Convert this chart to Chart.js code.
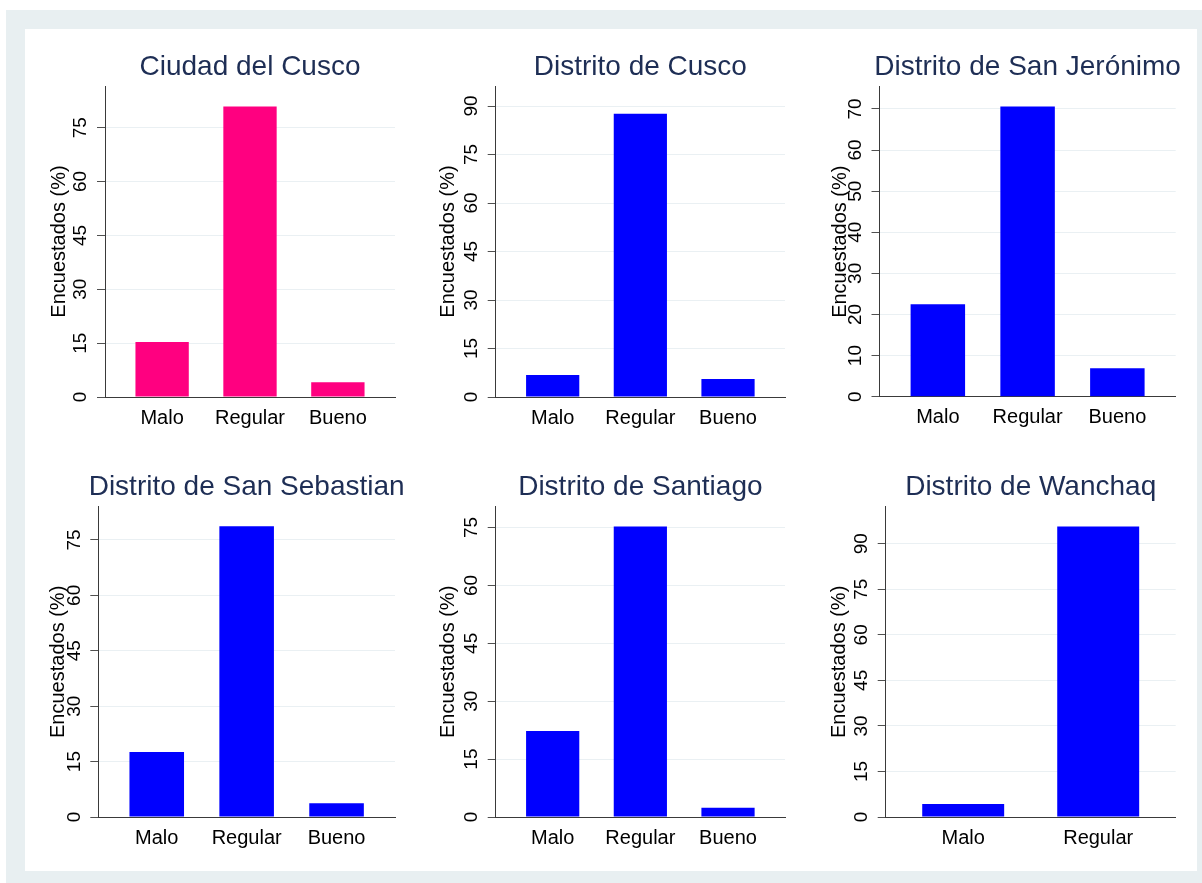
<!DOCTYPE html>
<html lang="es">
<head>
<meta charset="utf-8">
<title>Encuestados por distrito</title>
<script src="https://cdn.jsdelivr.net/npm/chart.js@4.4.1/dist/chart.umd.min.js"></script>
<style>
  html, body { margin: 0; padding: 0; background: #fff; }
  #frame { position: absolute; left: 6px; top: 10px; width: 1196px; height: 873px; background: #e8eff1; }
  #sheet { position: absolute; left: 25px; top: 29px; width: 1172px; height: 842px; background: #fff; }
  canvas { position: absolute; }
</style>
</head>
<body>
<div id="frame"></div>
<div id="sheet"></div>
<script>
// survey answers, percent of respondents
const categories = ['Malo', 'Regular', 'Bueno'];
const ciudadCusco = [15.3, 80.9, 4.1];
const distritoCusco = [6.8, 87.6, 5.6];
const sanJeronimo = [22.5, 70.6, 6.9];
const sanSebastian = [17.6, 78.7, 3.7];
const santiago = [22.3, 75.3, 2.4];
const wanchaq = [4.3, 95.7];

const titles = ['Ciudad del Cusco', 'Distrito de Cusco', 'Distrito de San Jerónimo',
                'Distrito de San Sebastian', 'Distrito de Santiago', 'Distrito de Wanchaq'];
const series = [ciudadCusco, distritoCusco, sanJeronimo, sanSebastian, santiago, wanchaq];

// y axis: upper end and tick step for each panel
const yMax = [86.6, 96.2, 75.4, 84.0, 80.4, 102.2];
const yStep = [15, 15, 10, 15, 15, 15];

const PINK = '#ff0080';
const BLUE = '#0000ff';
const AXIS = '#3a3a3a';
const GRID = '#eaf0f3';
const NAVY = '#1e2e55';
const FONT = '"Liberation Sans", Arial, Helvetica, sans-serif';

Chart.defaults.font.family = FONT;

// panel title centred over the plot area (the built-in title squeezes long text to the plot width)
const panelTitle = {
    id: 'panelTitle',
    afterDraw: function(chart, args, opts) {
        const ctx = chart.ctx;
        const area = chart.chartArea;
        ctx.save();
        ctx.font = '28px ' + FONT;
        ctx.fillStyle = NAVY;
        ctx.textAlign = 'center';
        ctx.textBaseline = 'middle';
        ctx.fillText(opts.text, (area.left + area.right) / 2, opts.y);
        ctx.restore();
    }
};

// canvas box [left, top, width, height], inner padding, y-axis width, title middle line
const layout = [
  { box: [25, 29, 375, 411],  pad: { left: 22,   right: 5,    top: 57,   bottom: 3 },   yWidth: 58,   titleY: 38 },
  { box: [400, 29, 400, 411], pad: { left: 36.3, right: 15,   top: 57,   bottom: 3 },   yWidth: 59.4, titleY: 38 },
  { box: [800, 29, 397, 411], pad: { left: 28,   right: 21.3, top: 57.7, bottom: 3.3 }, yWidth: 51.5, titleY: 38 },
  { box: [25, 440, 395, 431], pad: { left: 21.7, right: 25,   top: 66.7, bottom: 14 },  yWidth: 51.6, titleY: 47 },
  { box: [400, 440, 400, 431],pad: { left: 36.7, right: 15,   top: 66.7, bottom: 14 },  yWidth: 59,   titleY: 47 },
  { box: [800, 440, 397, 431],pad: { left: 27.5, right: 21.3, top: 66.7, bottom: 14 },  yWidth: 58.2, titleY: 47 }
];

series.forEach(function(values, k) {
    const L = layout[k];
    const canvas = document.createElement('canvas');
    canvas.width = L.box[2];
    canvas.height = L.box[3];
    canvas.style.left = L.box[0] + 'px';
    canvas.style.top = L.box[1] + 'px';
    document.body.appendChild(canvas);

    // outer gap around the bars, in category units
    const gap = values.length === 3 ? 0.65 : 0.574;

    new Chart(canvas, {
        type: 'bar',
        data: {
            datasets: [{
                data: values.map(function(v, i) { return { x: i, y: v }; }),
                backgroundColor: k === 0 ? PINK : BLUE,
                borderWidth: 0,
                categoryPercentage: 1,
                barPercentage: 0.607
            }]
        },
        plugins: [panelTitle],
        options: {
            responsive: false,
            animation: false,
            events: [],
            layout: { padding: L.pad },
            plugins: {
                legend: { display: false },
                tooltip: { enabled: false },
                title: { display: false },
                panelTitle: { text: titles[k], y: L.titleY }
            },
            scales: {
                x: {
                    type: 'linear',
                    offset: false,
                    min: -gap,
                    max: values.length - 1 + gap,
                    grid: { display: false, drawTicks: false },
                    border: { display: true, color: AXIS, width: 1 },
                    ticks: {
                        stepSize: 1,
                        includeBounds: false,
                        autoSkip: false,
                        maxRotation: 0,
                        padding: 9,
                        color: '#000',
                        font: { size: 20 },
                        callback: function(v) { return categories[v] !== undefined ? categories[v] : ''; }
                    },
                    afterFit: function(scale) { scale.height = 40; }
                },
                y: {
                    min: 0,
                    max: yMax[k],
                    grid: { color: GRID, tickColor: '#505050', tickLength: 8, lineWidth: 1 },
                    border: { color: AXIS, width: 1 },
                    ticks: {
                        stepSize: yStep[k],
                        includeBounds: false,
                        minRotation: 90,
                        maxRotation: 90,
                        crossAlign: 'center',
                        padding: 5.4,
                        color: '#000',
                        font: { size: 19 }
                    },
                    title: {
                        display: true,
                        text: 'Encuestados (%)',
                        color: '#000',
                        font: { size: 20 },
                        padding: { top: 0, bottom: 0 }
                    },
                    afterFit: function(scale) { scale.width = L.yWidth; }
                }
            }
        }
    });
});
</script>
</body>
</html>
